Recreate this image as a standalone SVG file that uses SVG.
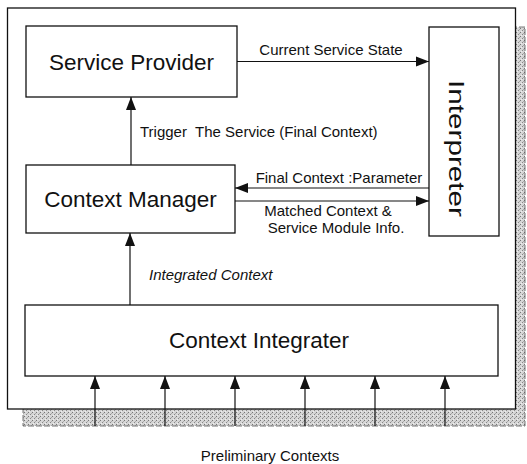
<svg xmlns="http://www.w3.org/2000/svg" width="527" height="464" viewBox="0 0 527 464">
<style>
.box{fill:#fff;stroke:#111;stroke-width:1.3}
.big{font-family:"Liberation Sans",Arial,sans-serif;font-size:22.5px;fill:#111}
.lbl{font-family:"Liberation Sans",Arial,sans-serif;font-size:15px;fill:#111}
.ln{stroke:#111;stroke-width:1.2;fill:none;marker-end:url(#ah)}
</style>
<defs>
<marker id="ah" markerUnits="userSpaceOnUse" markerWidth="14" markerHeight="12" viewBox="0 0 14 12" refX="13" refY="6" orient="auto">
<path d="M0,1 L13,6 L0,11 Z" fill="#111"/>
</marker>
<pattern id="dither" width="4" height="4" patternUnits="userSpaceOnUse">
<rect width="4" height="4" fill="#d6d6d6"/>
<rect x="0" y="0" width="1" height="1" fill="#777"/>
<rect x="2" y="2" width="1" height="1" fill="#888"/>
<rect x="3" y="1" width="1" height="1" fill="#aaa"/>
<rect x="1" y="3" width="1" height="1" fill="#eee"/>
</pattern>
</defs>
<rect width="527" height="464" fill="#fff"/>
<g id="frame">
<rect x="23" y="27" width="502" height="399" fill="url(#dither)" stroke="#555" stroke-width="0.8" stroke-dasharray="6,2"/>
<rect x="7.5" y="8" width="508" height="401" fill="#fff" stroke="#111" stroke-width="1.3"/>
</g>
<g id="service-provider">
<rect class="box" x="26" y="26" width="211" height="71"/>
<text class="big" x="131.5" y="70" text-anchor="middle">Service Provider</text>
</g>
<g id="interpreter">
<rect class="box" x="429" y="27" width="70" height="209"/>
<text class="big" transform="translate(449,148.5) rotate(90)" text-anchor="middle" textLength="137" lengthAdjust="spacingAndGlyphs">Interpreter</text>
</g>
<g id="context-manager">
<rect class="box" x="26" y="165" width="209" height="68"/>
<text class="big" x="130.5" y="207" text-anchor="middle">Context Manager</text>
</g>
<g id="context-integrater">
<rect class="box" x="25" y="305" width="473" height="71"/>
<text class="big" x="259" y="348" text-anchor="middle">Context Integrater</text>
</g>
<g id="connectors">
<line class="ln" x1="237" y1="61.5" x2="429" y2="61.5"/>
<line class="ln" x1="131" y1="165" x2="131" y2="97"/>
<line class="ln" x1="429" y1="188" x2="235" y2="188"/>
<line class="ln" x1="235" y1="201" x2="429" y2="201"/>
<line class="ln" x1="130" y1="305" x2="130" y2="233"/>
<line class="ln" x1="95" y1="426" x2="95" y2="376"/>
<line class="ln" x1="165" y1="426" x2="165" y2="376"/>
<line class="ln" x1="235" y1="426" x2="235" y2="376"/>
<line class="ln" x1="305" y1="426" x2="305" y2="376"/>
<line class="ln" x1="375" y1="426" x2="375" y2="376"/>
<line class="ln" x1="445" y1="426" x2="445" y2="376"/>
</g>
<g id="labels">
<text class="lbl" x="331" y="55" text-anchor="middle">Current Service State</text>
<text class="lbl" x="140" y="137" xml:space="preserve">Trigger  The Service (Final Context)</text>
<text class="lbl" x="339" y="183" text-anchor="middle">Final Context :Parameter</text>
<text class="lbl" x="328" y="216" text-anchor="middle">Matched Context &amp;</text>
<text class="lbl" x="336" y="233" text-anchor="middle">Service Module Info.</text>
<text class="lbl" x="149" y="280" font-style="italic">Integrated Context</text>
<text class="lbl" x="270" y="461" text-anchor="middle">Preliminary Contexts</text>
</g>
</svg>
